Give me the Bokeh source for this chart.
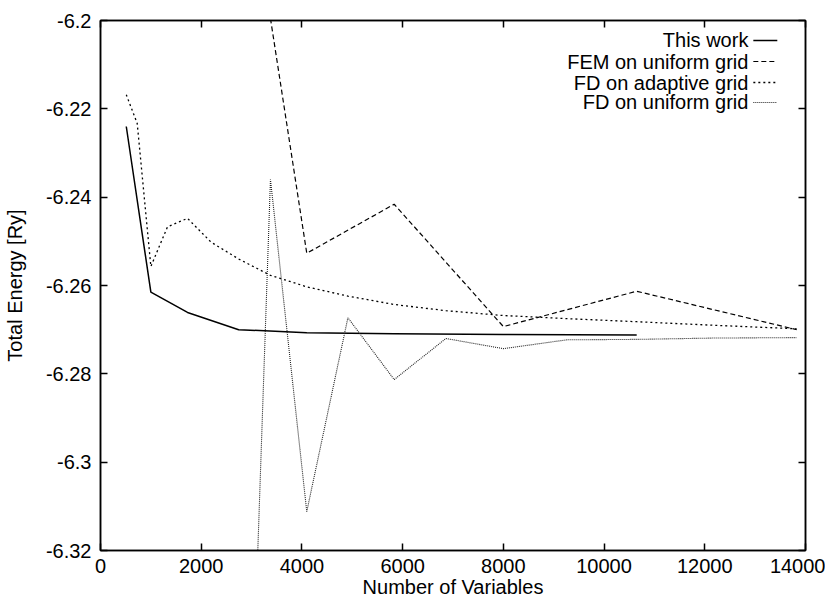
from bokeh.plotting import figure
from bokeh.models import LinearAxis, FixedTicker, Range1d, Label, CustomJSTickFormatter
from bokeh.embed import file_html
from bokeh.resources import INLINE

# ---- data ----
this_work_n = [512, 1000, 1728, 2744, 4096, 5832, 8000, 10648]
this_work_e = [-6.2240, -6.2615, -6.2661, -6.2700, -6.2707, -6.2709, -6.2711, -6.2712]

fem_n = [2744, 4096, 5832, 8000, 10648, 13824]
fem_e = [-6.153, -6.2527, -6.2416, -6.2693, -6.2613, -6.2700]

fd_adapt_n = [512, 729, 1000, 1331, 1728, 2197, 2744, 3375, 4096, 4913, 5832,
              6859, 8000, 9261, 10648, 12167, 13824]
fd_adapt_e = [-6.2168, -6.2233, -6.2557, -6.2467, -6.2448, -6.2502, -6.2540,
              -6.2577, -6.2603, -6.2624, -6.2643, -6.2657, -6.2668, -6.2675,
              -6.2682, -6.2690, -6.2698]

fd_unif_n = [2744, 3375, 4096, 4913, 5832, 6859, 8000, 9261, 10648, 12167, 13824]
fd_unif_e = [-6.447, -6.2360, -6.3112, -6.2673, -6.2813, -6.2720, -6.2743,
             -6.2723, -6.2722, -6.2719, -6.2718]

series_names = ["This work", "FEM on uniform grid", "FD on adaptive grid", "FD on uniform grid"]

x_ticks = [0, 2000, 4000, 6000, 8000, 10000, 12000, 14000]
x_tick_labels = ["0", "2000", "4000", "6000", "8000", "10000", "12000", "14000"]
y_ticks = [-6.32, -6.30, -6.28, -6.26, -6.24, -6.22, -6.20]
y_tick_labels = ["-6.32", "-6.3", "-6.28", "-6.26", "-6.24", "-6.22", "-6.2"]

X0, X1 = 0, 14000
Y0, Y1 = -6.32, -6.20

FONT = "Liberation Sans"

p = figure(frame_width=705, frame_height=530, output_backend="svg", toolbar_location=None,
           x_range=Range1d(X0, X1), y_range=Range1d(Y0, Y1),
           min_border_left=98, min_border_right=20, min_border_top=20, min_border_bottom=40,
           x_axis_label="Number of Variables", y_axis_label="Total Energy [Ry]")
p.background_fill_color = "white"
p.border_fill_color = "white"
p.outline_line_color = "black"
p.outline_line_width = 1.5
p.xgrid.visible = False
p.ygrid.visible = False

top_axis = LinearAxis()
right_axis = LinearAxis()
p.add_layout(top_axis, "above")
p.add_layout(right_axis, "right")

bottom_axis = p.below[0]
left_axis = p.left[0]

for ax in (bottom_axis, top_axis):
    ax.ticker = FixedTicker(ticks=x_ticks)
for ax in (left_axis, right_axis):
    ax.ticker = FixedTicker(ticks=y_ticks)
bottom_axis.major_label_overrides = {t: l for t, l in zip(x_ticks, x_tick_labels)}
left_axis.major_label_overrides = {t: l for t, l in zip(y_ticks, y_tick_labels)}

for ax in (bottom_axis, top_axis, left_axis, right_axis):
    ax.major_tick_in = 7
    ax.major_tick_out = 0
    ax.minor_tick_in = 0
    ax.minor_tick_out = 0
    ax.axis_line_color = "black"
    ax.axis_line_width = 1.5
    ax.major_tick_line_color = "black"
    ax.major_tick_line_width = 1.5
    ax.major_label_text_font = FONT
    ax.major_label_text_font_size = "20px"
    ax.major_label_text_color = "black"
    ax.axis_label_text_font = FONT
    ax.axis_label_text_font_size = "20px"
    ax.axis_label_text_font_style = "normal"
    ax.axis_label_text_color = "black"

bottom_axis.major_label_standoff = 8
bottom_axis.axis_label_standoff = 0
left_axis.major_label_standoff = 9
left_axis.axis_label_standoff = 17

# mirrored axes: ticks only, no labels
for ax in (top_axis, right_axis):
    ax.formatter = CustomJSTickFormatter(code="return ''")
    ax.major_label_standoff = 0

styles = [
    dict(line_dash="solid", line_width=1.5, line_color="black"),
    dict(line_dash="5 3", line_width=1.2, line_color="black"),
    dict(line_dash="2 3", line_width=1.3, line_color="black"),
    dict(line_dash="1 1", line_width=1.1, line_color="#222222"),
]
data = [(this_work_n, this_work_e), (fem_n, fem_e), (fd_adapt_n, fd_adapt_e), (fd_unif_n, fd_unif_e)]

for (xs, ys), st in zip(data, styles):
    p.line(xs, ys, **st)

# gnuplot-style key in upper right (text right-aligned, sample to its right)
def fx(f):
    return X0 + f * (X1 - X0)

def fy(f):
    return Y1 - f * (Y1 - Y0)

row_frac = [0.0377, 0.0774, 0.1170, 0.1547]
text_right = 0.919
samp_l, samp_r = 0.926, 0.960
for name, st, rf in zip(series_names, styles, row_frac):
    p.add_layout(Label(x=fx(text_right), y=fy(rf), text=name, text_align="right",
                       text_baseline="middle", text_font=FONT, text_font_size="20px",
                       text_color="black"))
    p.line([fx(samp_l), fx(samp_r)], [fy(rf), fy(rf)], **st)

open("out.html", "w").write(file_html(p, INLINE))
